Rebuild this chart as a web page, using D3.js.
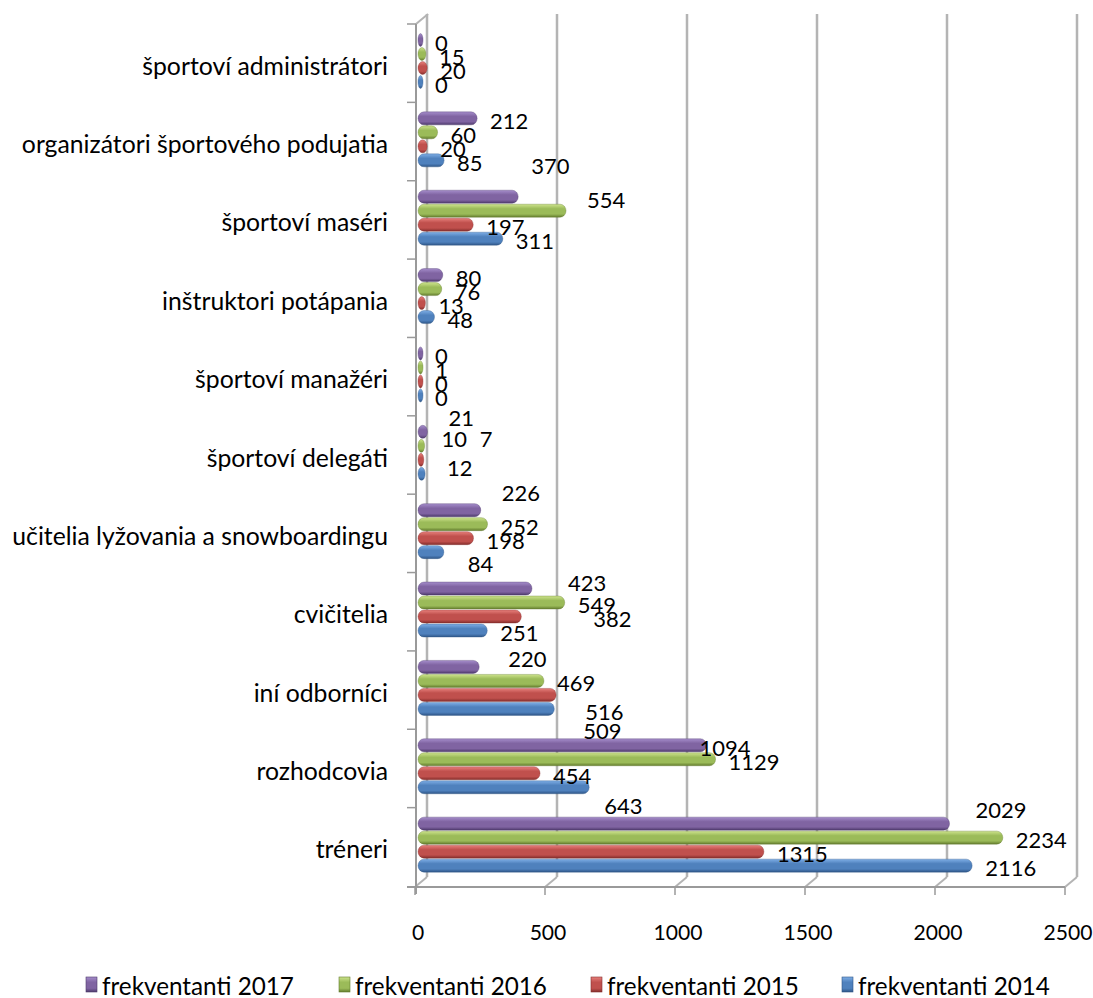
<!DOCTYPE html>
<html><head><meta charset="utf-8">
<script src="https://cdn.jsdelivr.net/npm/d3@7"></script>
<style>body{margin:0;background:#fff} svg{display:block}</style>
</head><body><svg id="chart" width="1093" height="998"></svg>
<script>
// ---- data ----
const categories = ["športoví administrátori","organizátori športového podujatia","športoví maséri","inštruktori potápania","športoví manažéri","športoví delegáti","učitelia lyžovania a snowboardingu","cvičitelia","iní odborníci","rozhodcovia","tréneri"];
const seriesNames = ["frekventanti 2017","frekventanti 2016","frekventanti 2015","frekventanti 2014"];
const values2017 = [0,212,370,80,0,21,226,423,220,1094,2029];
const values2016 = [15,60,554,76,1,10,252,549,469,1129,2234];
const values2015 = [20,20,197,13,0,7,198,382,516,454,1315];
const values2014 = [0,85,311,48,0,12,84,251,509,643,2116];
const xTickValues = [0,500,1000,1500,2000,2500];
// displaced data labels as in the original: [category, series, dx, dy]
const labelNudges = [[2,0,0,-33],[2,1,8,-13],[5,0,8,-16],[5,1,4,-9],[5,2,43,-23],[5,3,9,-8],[6,0,8,-20],[6,3,11,9],[7,0,23,-8],[7,2,59,0],[8,0,16,-10],[8,2,16,15],[8,3,16,20],[9,0,-20,0],[9,3,2,16],[10,0,13,-16]];

const seriesValues = [values2017, values2016, values2015, values2014];
const colors = [
  {top:"#a58dcb", mid:"#8064a2", bot:"#4e3a6c"},
  {top:"#cde38c", mid:"#9bbb59", bot:"#637c2e"},
  {top:"#e7807c", mid:"#c0504d", bot:"#852e2c"},
  {top:"#7eaee6", mid:"#4f81bd", bot:"#2f5687"}
];

const svg = d3.select("#chart");
const FONT = "Lato, 'Open Sans', sans-serif";

// measure font size that yields target width
const meas = svg.append("text").attr("font-family", FONT).attr("font-size", 100).attr("x", -9999).attr("y", -9999);
function fitSize(str, w){ meas.text(str); return 100 * w / meas.node().getComputedTextLength(); }
const catSize = fitSize("učitelia lyžovania a snowboardingu", 376);
const lblSize = fitSize("2116", 51);
const tickSize = fitSize("2500", 49);
const legSize = fitSize("frekventanti 2014", 192);
meas.remove();

// ---- geometry ----
const plotTop = 24, plotBottom = 886;
const depthX = 12, depthY = -10;
const y0 = d3.scaleBand().domain(categories).range([plotTop, plotBottom]).padding(0);
const y1 = d3.scaleBand().domain(seriesNames).range([9, 65]).padding(0);
const xFront = d3.scaleLinear().domain([0,2500]).range([415,1065]);
const xBar = d3.scaleLinear().domain([0,2500]).range([420,1070]);

const defs = svg.append("defs");
colors.forEach((c,i)=>{
  const g = defs.append("linearGradient").attr("id","g"+i).attr("x1",0).attr("y1",0).attr("x2",0).attr("y2",1);
  g.append("stop").attr("offset","0%").attr("stop-color",c.top);
  g.append("stop").attr("offset","35%").attr("stop-color",c.mid);
  g.append("stop").attr("offset","75%").attr("stop-color",c.mid);
  g.append("stop").attr("offset","100%").attr("stop-color",c.bot);
});

const gridColor = "#b4b4b4";
const axisColor = "#9a9a9a";
// back gridlines
const grid = svg.append("g");
grid.selectAll("line.grid").data(xTickValues).join("line").attr("class","grid")
  .attr("x1", d=>xFront(d)+depthX).attr("x2", d=>xFront(d)+depthX)
  .attr("y1", plotTop+depthY).attr("y2", plotBottom+1+depthY)
  .attr("stroke", gridColor).attr("stroke-width", 2.5);
// floor diagonals
grid.selectAll("line.diag").data(xTickValues).join("line").attr("class","diag")
  .attr("x1", d=>xFront(d)).attr("x2", d=>xFront(d)+depthX)
  .attr("y1", plotBottom+1).attr("y2", plotBottom+1+depthY)
  .attr("stroke", gridColor).attr("stroke-width", 2);
// side wall top diagonal
grid.append("line").attr("x1",416).attr("y1",plotTop).attr("x2",416+depthX).attr("y2",plotTop+depthY)
  .attr("stroke", gridColor).attr("stroke-width", 2);

// front vertical axis
const ax = svg.append("g");
ax.append("line").attr("x1",416).attr("x2",416).attr("y1",plotTop).attr("y2",plotBottom+8)
  .attr("stroke", axisColor).attr("stroke-width", 2);
const catEdges = categories.map(c=>y0(c)).concat([plotBottom+1]);
ax.selectAll("line.ct").data(catEdges).join("line").attr("class","ct")
  .attr("x1",407).attr("x2",416).attr("y1",d=>d).attr("y2",d=>d)
  .attr("stroke", axisColor).attr("stroke-width", 1.5);
// front horizontal axis
ax.append("line").attr("x1",407).attr("x2",xFront(2500)).attr("y1",plotBottom+1).attr("y2",plotBottom+1)
  .attr("stroke", axisColor).attr("stroke-width", 2);
ax.selectAll("line.xt").data(xTickValues).join("line").attr("class","xt")
  .attr("x1",d=>xFront(d)).attr("x2",d=>xFront(d)).attr("y1",plotBottom+1).attr("y2",plotBottom+9)
  .attr("stroke", axisColor).attr("stroke-width", 1.5);
ax.selectAll("text.xl").data(xTickValues).join("text").attr("class","xl")
  .attr("x", d=>xFront(d)+3).attr("y", 931)
  .attr("text-anchor","middle").attr("dominant-baseline","central")
  .attr("font-family", FONT).attr("font-size", tickSize).attr("fill","#000")
  .text(d=>d);

// category labels
svg.append("g").selectAll("text").data(categories).join("text")
  .attr("x", 388).attr("y", d=>y0(d)+y0.bandwidth()/2+2)
  .attr("text-anchor","end").attr("dominant-baseline","central")
  .attr("font-family", FONT).attr("font-size", catSize).attr("fill","#000")
  .text(d=>d);

// bars
const barData = [];
categories.forEach((c,ci)=>seriesNames.forEach((s,si)=>barData.push({c,ci,s,si,v:seriesValues[si][ci]})));
const bars = svg.append("g");
bars.selectAll("rect").data(barData).join("rect")
  .attr("x", 418)
  .attr("y", d=>y0(d.c)+y1(d.s)+0.5)
  .attr("width", d=>Math.max(5, xBar(d.v)+2-418))
  .attr("height", y1.bandwidth()-1)
  .attr("rx", 6).attr("ry", 6.5)
  .attr("fill", d=>`url(#g${d.si})`)
  .attr("stroke", d=>colors[d.si].bot).attr("stroke-width", 0.6).attr("stroke-opacity",0.6);

// data labels
const nudge = new Map(labelNudges.map(n=>[n[0]+"_"+n[1], n]));
svg.append("g").selectAll("text").data(barData).join("text")
  .attr("x", d=>{const n=nudge.get(d.ci+"_"+d.si); return xBar(d.v)+15+(n?n[2]:0);})
  .attr("y", d=>{const n=nudge.get(d.ci+"_"+d.si); return y0(d.c)+y1(d.s)+y1.bandwidth()/2+2+(n?n[3]:0);})
  .attr("dominant-baseline","central")
  .attr("font-family", FONT).attr("font-size", lblSize).attr("fill","#000")
  .text(d=>d.v);

// legend
const legX = [86, 339, 591, 842];
const leg = svg.append("g");
seriesNames.forEach((s,i)=>{
  const g = leg.append("g");
  g.append("rect").attr("x", legX[i]).attr("y", 977).attr("width", 11).attr("height", 15)
    .attr("fill", `url(#g${i})`).attr("stroke", colors[i].bot).attr("stroke-width",0.6);
  g.append("text").attr("x", legX[i]+16).attr("y", 985).attr("dominant-baseline","central")
    .attr("font-family", FONT).attr("font-size", legSize).attr("fill","#000").text(s);
});
</script>
</body></html>
